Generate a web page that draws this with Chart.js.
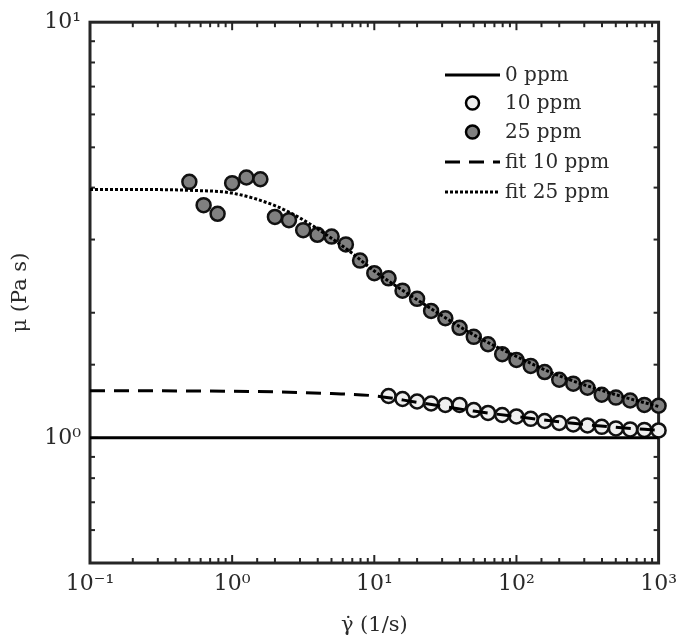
<!DOCTYPE html>
<html><head><meta charset="utf-8">
<script src="https://cdn.jsdelivr.net/npm/chart.js@4/dist/chart.umd.min.js"></script>
<style>html,body{margin:0;padding:0;background:#fff;} #wrap{width:685px;height:640px;position:relative;}</style>
</head><body><div id="wrap"><canvas id="c" width="685" height="640"></canvas></div>
<script>
// ---- data ----
const shearRate0 = [0.1, 1000];
const visc0 = [1.0, 1.0];

const shearRate10 = [12.6, 15.8, 20, 25.1, 31.6, 39.8, 50.1, 63.1, 79.4, 100, 126, 158, 200, 251, 316, 398, 501, 631, 794, 1000];
const visc10 = [1.261, 1.240, 1.223, 1.210, 1.200, 1.200, 1.167, 1.148, 1.135, 1.126, 1.111, 1.098, 1.086, 1.077, 1.071, 1.063, 1.054, 1.048, 1.045, 1.042];

const shearRate25 = [0.5, 0.63, 0.79, 1.0, 1.26, 1.58, 2.0, 2.51, 3.16, 3.98, 5.01, 6.31, 7.94, 10, 12.6, 15.8, 20, 25.1, 31.6, 39.8, 50.1, 63.1, 79.4, 100, 126, 158, 200, 251, 316, 398, 501, 631, 794, 1000];
const visc25 = [4.13, 3.63, 3.46, 4.10, 4.23, 4.19, 3.40, 3.34, 3.16, 3.08, 3.05, 2.92, 2.67, 2.49, 2.42, 2.26, 2.16, 2.02, 1.94, 1.84, 1.75, 1.68, 1.59, 1.54, 1.49, 1.44, 1.38, 1.35, 1.32, 1.27, 1.25, 1.23, 1.20, 1.195];

const fitRate10 = [0.1, 0.5, 1, 2, 5, 10, 20, 50, 100, 200, 500, 1000];
const fitVisc10 = [1.298, 1.297, 1.295, 1.290, 1.278, 1.262, 1.218, 1.160, 1.125, 1.093, 1.060, 1.043];

const fitRate25 = [0.1, 0.2, 0.5, 1, 2, 3, 5, 7, 10, 20, 50, 100, 200, 500, 1000];
const fitVisc25 = [3.96, 3.96, 3.94, 3.88, 3.62, 3.38, 3.02, 2.78, 2.52, 2.15, 1.77, 1.57, 1.41, 1.27, 1.19];

const seriesLabels = ['0 ppm', '10 ppm', '25 ppm', 'fit 10 ppm', 'fit 25 ppm'];
const xTickLabels = {'-1': '10\u207B\u00B9', '0': '10\u2070', '1': '10\u00B9', '2': '10\u00B2', '3': '10\u00B3'};
const yTickLabels = {'0': '10\u2070', '1': '10\u00B9'};
const xTitle = '\u03B3\u0307 (1/s)';
const yTitle = '\u03BC (Pa s)';

const pts = (xs, ys) => xs.map((v, i) => ({x: v, y: ys[i]}));
const FONT = "'DejaVu Serif', 'Liberation Serif', serif";
const INK = '#2a2a2a';

function exp10(v){ const l = Math.log10(v); const r = Math.round(l); return Math.abs(l - r) < 1e-6 ? r : null; }

const frameTicks = {
  id: 'frameTicks',
  beforeDatasetsDraw(chart){
    const {ctx, chartArea: a, scales: {x, y}} = chart;
    ctx.save();
    ctx.strokeStyle = '#262626';
    ctx.lineCap = 'butt';
    ctx.lineWidth = 2;
    const seg = (x1, y1, x2, y2) => { ctx.beginPath(); ctx.moveTo(x1, y1); ctx.lineTo(x2, y2); ctx.stroke(); };
    x.ticks.forEach(t => {
      const px = x.getPixelForValue(t.value);
      if (px <= a.left + 1 || px >= a.right - 1) return;
      const L = exp10(t.value) !== null ? 8 : 5;
      seg(px, a.bottom, px, a.bottom - L);
      seg(px, a.top, px, a.top + L);
    });
    y.ticks.forEach(t => {
      const py = y.getPixelForValue(t.value);
      if (py <= a.top + 1 || py >= a.bottom - 1) return;
      const L = exp10(t.value) !== null ? 8 : 5;
      seg(a.left, py, a.left + L, py);
      seg(a.right, py, a.right - L, py);
    });
    ctx.lineWidth = 3;
    ctx.strokeRect(a.left, a.top, a.right - a.left, a.bottom - a.top);
    ctx.restore();
  }
};

const legendPlugin = {
  id: 'customLegend',
  afterDraw(chart){
    const ctx = chart.ctx;
    const x0 = 445, x1 = 500, tx = 505, rows = [75, 103, 132, 162, 192];
    ctx.save();
    ctx.font = "20px " + FONT;
    ctx.fillStyle = INK;
    ctx.textBaseline = 'middle';
    chart.data.datasets.forEach((ds, i) => {
      const yy = rows[i];
      if (ds.showLine) {
        ctx.strokeStyle = '#000';
        ctx.lineWidth = 3;
        ctx.setLineDash(ds.borderDash || []);
        ctx.beginPath(); ctx.moveTo(x0, yy); ctx.lineTo(x1, yy); ctx.stroke();
        ctx.setLineDash([]);
      } else {
        ctx.beginPath();
        ctx.arc((x0 + x1) / 2, yy, 6.5, 0, Math.PI * 2);
        ctx.fillStyle = ds.pointBackgroundColor;
        ctx.fill();
        ctx.lineWidth = 2.5;
        ctx.strokeStyle = '#000';
        ctx.stroke();
      }
      ctx.fillStyle = INK;
      ctx.fillText(ds.label, tx, yy + 1);
    });
    ctx.restore();
  }
};

new Chart(document.getElementById('c'), {
  type: 'scatter',
  data: {
    datasets: [
      {label: seriesLabels[0], data: pts(shearRate0, visc0), showLine: true, borderColor: '#000', borderWidth: 3, pointRadius: 0, order: 1, clip: false},
      {label: seriesLabels[1], data: pts(shearRate10, visc10), showLine: false, pointRadius: 7, pointBorderWidth: 2.5, pointBackgroundColor: '#efefef', pointBorderColor: '#111', order: 2, clip: false},
      {label: seriesLabels[2], data: pts(shearRate25, visc25), showLine: false, pointRadius: 7, pointBorderWidth: 2.5, pointBackgroundColor: '#808080', pointBorderColor: '#111', order: 2, clip: false},
      {label: seriesLabels[3], data: pts(fitRate10, fitVisc10), showLine: true, borderColor: '#000', borderWidth: 3, borderDash: [15, 9], pointRadius: 0, cubicInterpolationMode: 'monotone', order: 1, clip: false},
      {label: seriesLabels[4], data: pts(fitRate25, fitVisc25), showLine: true, borderColor: '#000', borderWidth: 3, borderDash: [3, 2], pointRadius: 0, cubicInterpolationMode: 'monotone', order: 1, clip: false}
    ]
  },
  options: {
    responsive: false,
    animation: false,
    devicePixelRatio: 1,
    layout: {padding: {top: 22, right: 23, left: 0, bottom: 0}},
    plugins: {legend: {display: false}, tooltip: {enabled: false}},
    scales: {
      x: {
        type: 'logarithmic', min: 0.1, max: 1000,
        grid: {display: false, drawTicks: false},
        border: {display: false},
        ticks: {
          autoSkip: false, maxRotation: 0, padding: 8, color: INK,
          font: {family: FONT, size: 22},
          callback: (v) => { const e = exp10(v); return e === null ? '' : (xTickLabels[String(e)] || ''); }
        },
        title: {display: true, text: xTitle, color: INK, font: {family: FONT, size: 21}, padding: {top: 0, bottom: 2}},
        afterFit: (s) => { s.height = 77; }
      },
      y: {
        type: 'logarithmic', min: 0.5, max: 10,
        grid: {display: false, drawTicks: false},
        border: {display: false},
        ticks: {
          autoSkip: false, padding: 9, color: INK,
          font: {family: FONT, size: 22},
          callback: (v) => { const e = exp10(v); return e === null ? '' : (yTickLabels[String(e)] || ''); }
        },
        title: {display: true, text: yTitle, color: INK, font: {family: FONT, size: 21}, padding: {top: 8, bottom: 0}},
        afterFit: (s) => { s.width = 90; }
      }
    }
  },
  plugins: [frameTicks, legendPlugin]
});
</script>
</body></html>
